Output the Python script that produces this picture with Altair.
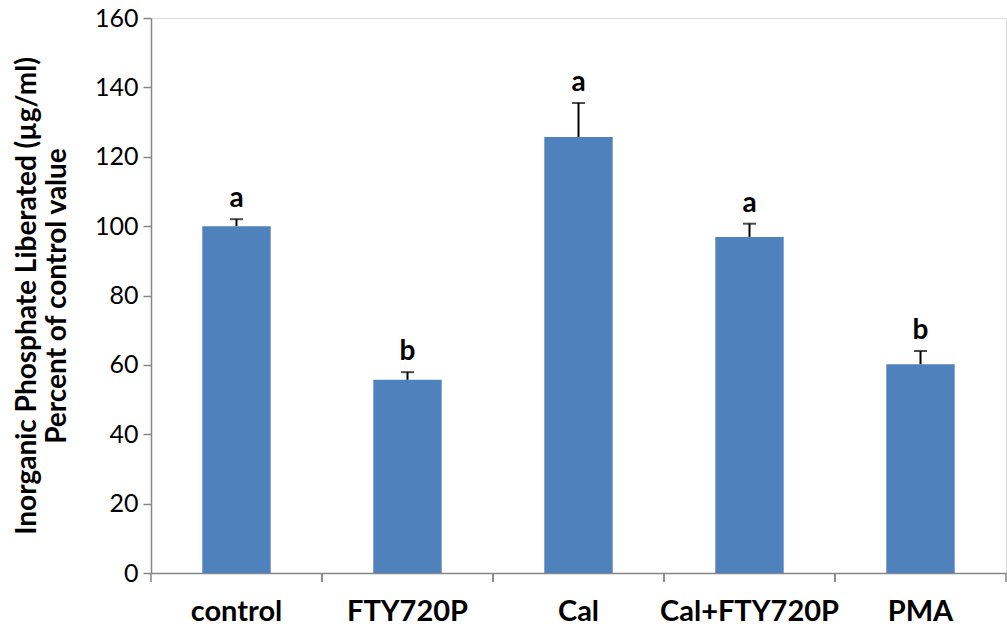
import altair as alt
import pandas as pd

categories = ["control", "FTY720P", "Cal", "Cal+FTY720P", "PMA"]
means = [100.0, 55.7, 125.7, 96.9, 60.2]
errors = [2.0, 2.2, 9.8, 3.8, 3.8]
letters = ["a", "b", "a", "a", "b"]
y_ticks = [0, 20, 40, 60, 80, 100, 120, 140, 160]

df = pd.DataFrame({"cat": categories, "mean": means, "err": errors, "letter": letters})
df["upper"] = df["mean"] + df["err"]

FONT = "Lato"
AXIS_GRAY = "#868686"
W, H = 855, 555

xscale = alt.Scale(domain=categories, paddingInner=0, paddingOuter=0)
yscale = alt.Scale(domain=[0, 160], nice=False, zero=True)

base = alt.Chart(df)

bars = base.mark_bar(color="#4F81BD", width=alt.RelativeBandSize(0.4)).encode(
    x=alt.X("cat:N", scale=xscale, sort=categories,
            axis=alt.Axis(title=None, labelAngle=0, labelFont=FONT, labelFontSize=29,
                          labelFontWeight="bold", labelColor="black", labelPadding=24,
                          ticks=False, domainColor=AXIS_GRAY, domainWidth=1.5)),
    y=alt.Y("mean:Q", scale=yscale,
            axis=alt.Axis(values=y_ticks, grid=False, tickSize=8, tickColor=AXIS_GRAY,
                          tickWidth=1.5, domainColor=AXIS_GRAY, domainWidth=1.5,
                          labelFont=FONT, labelFontSize=25, labelColor="black",
                          labelPadding=5,
                          title=["Inorganic Phosphate Liberated (µg/ml)", "Percent of control value"],
                          titleFont=FONT, titleFontSize=28, titleFontWeight="bold",
                          titleColor="black", titleLineHeight=30, titlePadding=23)),
)

err_line = base.mark_rule(color="black", strokeWidth=2).encode(
    x=alt.X("cat:N", scale=xscale, sort=categories),
    y=alt.Y("mean:Q", scale=yscale),
    y2="upper:Q",
)

caps = base.mark_tick(color="black", size=13, thickness=2).encode(
    x=alt.X("cat:N", scale=xscale, sort=categories),
    y=alt.Y("upper:Q", scale=yscale),
)

labels = base.mark_text(font=FONT, fontSize=28, fontWeight="bold", color="black",
                        baseline="alphabetic", dy=-12).encode(
    x=alt.X("cat:N", scale=xscale, sort=categories),
    y=alt.Y("upper:Q", scale=yscale),
    text="letter:N",
)

ticks0 = base.mark_rule(color=AXIS_GRAY, strokeWidth=1.5).encode(
    x=alt.X("cat:N", scale=xscale, sort=categories, bandPosition=0),
    y=alt.value(H), y2=alt.value(H + 9),
)
ticks1 = base.mark_rule(color=AXIS_GRAY, strokeWidth=1.5).encode(
    x=alt.X("cat:N", scale=xscale, sort=categories, bandPosition=1),
    y=alt.value(H), y2=alt.value(H + 9),
)

chart = alt.layer(bars, err_line, caps, labels, ticks0, ticks1).properties(
    width=W, height=H,
    autosize=alt.AutoSizeParams(type="none"),
    padding={"left": 151, "top": 18, "right": 1, "bottom": 53},
).configure_view(stroke=None).configure(background="white")

chart.save("out.html", embed_options={"renderer": "svg", "actions": False})
